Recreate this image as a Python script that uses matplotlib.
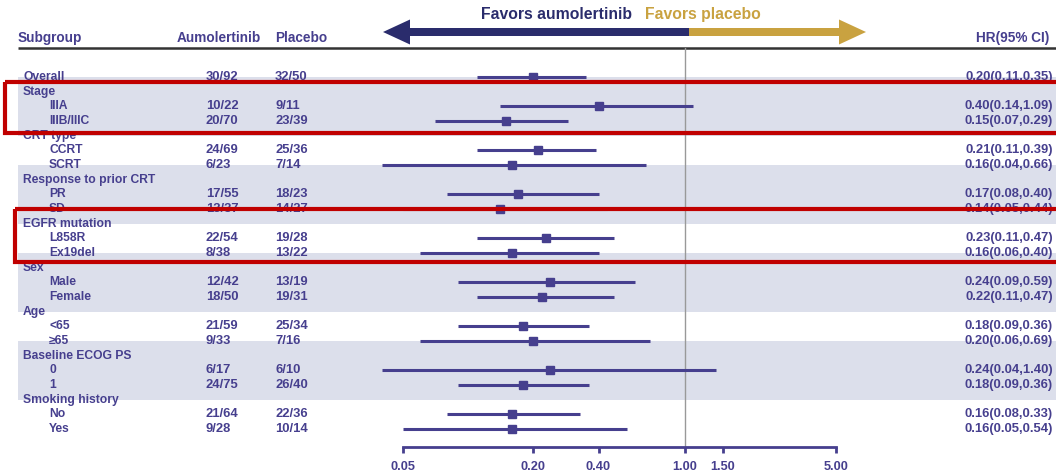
import numpy as np
import matplotlib
matplotlib.use("Agg")
import matplotlib.pyplot as plt
from matplotlib.patches import Rectangle, Polygon

plt.rcParams['font.family'] = ['Liberation Sans', 'DejaVu Sans']
plt.rcParams['font.weight'] = 'bold'

# Subgroup table
groups = ["Overall", "Stage", "CRT type", "Response to prior CRT", "EGFR mutation",
          "Sex", "Age", "Baseline ECOG PS", "Smoking history"]
subgroups = [[], ["IIIA", "IIIB/IIIC"], ["CCRT", "SCRT"], ["PR", "SD"],
             ["L858R", "Ex19del"], ["Male", "Female"], ["<65", "≥65"], ["0", "1"],
             ["No", "Yes"]]

# one entry per plotted row: Overall first, then each subgroup in order
aumo = ["30/92", "10/22", "20/70", "24/69", "6/23", "17/55", "13/37", "22/54", "8/38",
        "12/42", "18/50", "21/59", "9/33", "6/17", "24/75", "21/64", "9/28"]
plac = ["32/50", "9/11", "23/39", "25/36", "7/14", "18/23", "14/27", "19/28", "13/22",
        "13/19", "19/31", "25/34", "7/16", "6/10", "26/40", "22/36", "10/14"]
hr = [0.20, 0.40, 0.15, 0.21, 0.16, 0.17, 0.14, 0.23, 0.16,
      0.24, 0.22, 0.18, 0.20, 0.24, 0.18, 0.16, 0.16]
lo = [0.11, 0.14, 0.07, 0.11, 0.04, 0.08, 0.05, 0.11, 0.06,
      0.09, 0.11, 0.09, 0.06, 0.04, 0.09, 0.08, 0.05]
hi = [0.35, 1.09, 0.29, 0.39, 0.66, 0.40, 0.44, 0.47, 0.40,
      0.59, 0.47, 0.36, 0.69, 1.40, 0.36, 0.33, 0.54]

xticks = [0.05, 0.20, 0.40, 1.00, 1.50, 5.00]

PURPLE = '#463f8e'
NAVY = '#2a2c6c'
GOLD = '#c9a240'
BAND = '#dcdfeb'
RED = '#c00000'
FS = 8.7      # row labels
FN = 9.4      # numeric columns

W, H = 1056, 472
ROW0, STEP = 77.0, 14.67   # pixel y of first row, row spacing


def row_of(pix):
    return (pix - ROW0) / STEP


# lay out rows: group headers, subgroup labels, and data row indices
label_rows = []   # (row, text, indent)
data_rows = []
r = 0
for g, subs in zip(groups, subgroups):
    if not subs:
        label_rows.append((r, g, False))
        data_rows.append(r)
        r += 1
        continue
    label_rows.append((r, g, False))
    r += 1
    for s in subs:
        label_rows.append((r, s, True))
        data_rows.append(r)
        r += 1

fig = plt.figure(figsize=(W / 100, H / 100), dpi=100)
bg = fig.add_axes([0, 0, 1, 1])
bg.set_xlim(0, W)
bg.set_ylim(row_of(H), row_of(0))
bg.axis('off')

# alternating shaded bands
for a, b in [(0, 4), (6, 10), (12, 16), (18, 22)]:
    bg.add_patch(Rectangle((18, a), W, b - a, color=BAND, lw=0, zorder=0))

# header
hdr_y = row_of(38)
bg.text(18, hdr_y, "Subgroup", color=PURPLE, fontsize=9.8, va='center')
bg.text(177, hdr_y, "Aumolertinib", color=PURPLE, fontsize=9.8, va='center')
bg.text(275, hdr_y, "Placebo", color=PURPLE, fontsize=9.8, va='center')
bg.text(1049, hdr_y, "HR(95% CI)", color=PURPLE, fontsize=9.8, va='center', ha='right')
bg.plot([18, W], [row_of(48)] * 2, color='#333333', lw=1.8, solid_capstyle='butt')

# direction arrow
ay = row_of(32)
sh, hh, hl = 4 / STEP, 12.5 / STEP, 27
split, left_tip, right_tip = 689, 383, 866
bg.add_patch(Polygon([(left_tip, ay), (left_tip + hl, ay - hh), (left_tip + hl, ay - sh),
                      (split, ay - sh), (split, ay + sh), (left_tip + hl, ay + sh),
                      (left_tip + hl, ay + hh)], color=NAVY, lw=0))
bg.add_patch(Polygon([(right_tip, ay), (right_tip - hl, ay - hh), (right_tip - hl, ay - sh),
                      (split, ay - sh), (split, ay + sh), (right_tip - hl, ay + sh),
                      (right_tip - hl, ay + hh)], color=GOLD, lw=0))
bg.text(632, row_of(15), "Favors aumolertinib", color=NAVY, fontsize=11.3,
        ha='right', va='center')
bg.text(645, row_of(15), "Favors placebo", color=GOLD, fontsize=11.3,
        ha='left', va='center')

# left and right text columns
for rr, txt, indent in label_rows:
    bg.text(49 if indent else 23, rr, txt, color=PURPLE, fontsize=FS, va='center')
for rr, a_, p_, h_, l_, u_ in zip(data_rows, aumo, plac, hr, lo, hi):
    bg.text(206, rr, a_, color=PURPLE, fontsize=FN, va='center')
    bg.text(275, rr, p_, color=PURPLE, fontsize=FN, va='center')
    bg.text(1053, rr, f"{h_:.2f}({l_:.2f},{u_:.2f})", color=PURPLE, fontsize=FN,
            va='center', ha='right')

# forest panel
ax = fig.add_axes([403 / W, 1 - 447 / H, 433 / W, (447 - 48) / H])
ax.set_facecolor('none')
ax.set_xscale('log')
ax.set_xlim(0.05, 5.0)
ax.set_ylim(row_of(447), row_of(48))
ax.axvline(1.0, color='#999999', lw=1, zorder=1)
ax.hlines(data_rows, lo, hi, color=PURPLE, lw=2.2, zorder=2, clip_on=False)
ax.plot(hr, data_rows, 's', color=PURPLE, ms=6, zorder=3, clip_on=False)
for s in ['top', 'left', 'right']:
    ax.spines[s].set_visible(False)
ax.spines['bottom'].set_color(PURPLE)
ax.spines['bottom'].set_linewidth(2)
ax.set_yticks([])
ax.set_xticks(xticks)
ax.set_xticklabels([f"{t:.2f}" for t in xticks])
ax.minorticks_off()
ax.tick_params(axis='x', colors=PURPLE, length=4, width=2, pad=6, labelsize=9.2)

# highlight boxes
over = fig.add_axes([0, 0, 1, 1])
over.set_xlim(0, W)
over.set_ylim(row_of(H), row_of(0))
over.axis('off')
over.add_patch(Rectangle((5, row_of(82.5)), W + 20, row_of(133) - row_of(82.5),
                         fill=False, ec=RED, lw=3))
over.add_patch(Rectangle((15, row_of(209.5)), W + 20, row_of(262) - row_of(209.5),
                         fill=False, ec=RED, lw=3))

fig.savefig("out.png", dpi=100)
